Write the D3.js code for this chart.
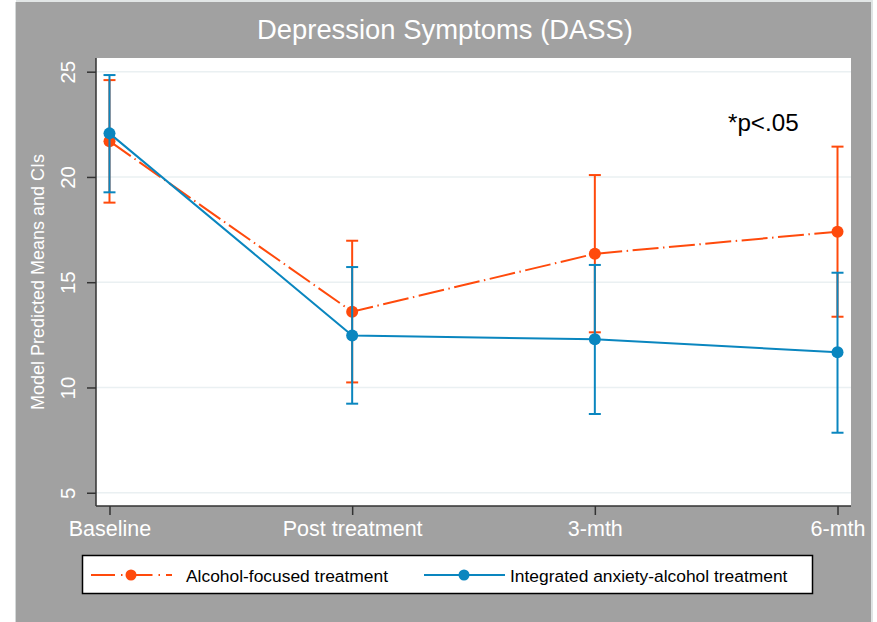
<!DOCTYPE html>
<html>
<head>
<meta charset="utf-8">
<script src="https://cdn.jsdelivr.net/npm/d3@7"></script>
<style>
  html, body { margin: 0; padding: 0; background: #ffffff; }
  svg { display: block; font-family: "Liberation Sans", Arial, Helvetica, sans-serif; }
</style>
</head>
<body>
<svg id="chart" width="877" height="622"></svg>
<script>
// ---- Data ----
const categories = ["Baseline", "Post treatment", "3-mth", "6-mth"];
const alcoholMean = [21.70, 13.60, 16.35, 17.40];
const alcoholLow  = [18.78, 10.24, 12.62, 13.36];
const alcoholHigh = [24.60, 16.97, 20.09, 21.44];
const integratedMean = [22.07, 12.47, 12.29, 11.67];
const integratedLow  = [19.27, 9.23, 8.74, 7.85];
const integratedHigh = [24.84, 15.72, 15.82, 15.45];
const yTicks = [5, 10, 15, 20, 25];
const seriesNames = ["Alcohol-focused treatment", "Integrated anxiety-alcohol treatment"];
const titleText = "Depression Symptoms (DASS)";
const yTitle = "Model Predicted Means and CIs";
const noteText = "*p<.05";

const ORANGE = "#ff4a0c";
const BLUE = "#0a86bf";
const GRAY = "#a1a1a1";

const svg = d3.select("#chart");
const W = 877, H = 622;

// outer background
svg.append("rect").attr("x", 16).attr("y", 2).attr("width", 855).attr("height", H - 2).attr("fill", GRAY);
svg.append("line").attr("x1", 15.5).attr("x2", 15.5).attr("y1", 2).attr("y2", H).attr("stroke", "#d4d8d8").attr("stroke-width", 1);
svg.append("rect").attr("x", 871).attr("y", 0).attr("width", 2).attr("height", H).attr("fill", "#dfe4e4");
svg.append("rect").attr("x", 16).attr("y", 0).attr("width", 857).attr("height", 2).attr("fill", "#e2e6e6");

const plot = { left: 96, right: 851, top: 58, bottom: 506 };

const x = d3.scalePoint().domain(categories).range([plot.left, plot.right]).padding(0.0556);
const y = d3.scaleLinear().domain([4.37, 25.65]).range([plot.bottom, plot.top]);

// plot region
svg.append("rect")
  .attr("x", plot.left).attr("y", plot.top)
  .attr("width", plot.right - plot.left).attr("height", plot.bottom - plot.top)
  .attr("fill", "#ffffff");

// gridlines
svg.append("g").selectAll("line").data(yTicks).join("line")
  .attr("x1", plot.left).attr("x2", plot.right)
  .attr("y1", d => y(d)).attr("y2", d => y(d))
  .attr("stroke", "#eaf0f2").attr("stroke-width", 1.5);

// title
svg.append("text").attr("x", 445).attr("y", 39).attr("text-anchor", "middle")
  .attr("fill", "#ffffff").attr("font-size", 27.4).text(titleText);

// y axis
const yAxis = svg.append("g").attr("transform", `translate(${plot.left},0)`)
  .call(d3.axisLeft(y).tickValues(yTicks).tickSize(9).tickPadding(0).tickFormat(d3.format("d")));
yAxis.select(".domain").attr("stroke", "#333333").attr("stroke-width", 1.5)
  .attr("d", `M0,${plot.top}V${plot.bottom}`);
yAxis.selectAll(".tick line").attr("stroke", "#333333").attr("stroke-width", 1.5);
yAxis.selectAll(".tick text")
  .attr("fill", "#ffffff").attr("font-size", 20.5)
  .attr("x", null).attr("dy", null)
  .attr("text-anchor", "middle")
  .attr("transform", "translate(-21.5,0) rotate(-90)");

// y title
svg.append("text")
  .attr("transform", `translate(43.5,${(plot.top + plot.bottom) / 2}) rotate(-90)`)
  .attr("text-anchor", "middle").attr("fill", "#ffffff").attr("font-size", 18)
  .text(yTitle);

// x axis
const xAxis = svg.append("g").attr("transform", `translate(0,${plot.bottom})`)
  .call(d3.axisBottom(x).tickSize(9).tickPadding(6));
xAxis.select(".domain").attr("stroke", "#333333").attr("stroke-width", 1.5)
  .attr("d", `M${plot.left},0H${plot.right}`);
xAxis.selectAll(".tick line").attr("stroke", "#333333").attr("stroke-width", 1.5);
xAxis.selectAll(".tick text").attr("fill", "#ffffff").attr("font-size", 21.5).attr("dy", "0.71em");

// series
const series = [
  { name: seriesNames[0], mean: alcoholMean, lo: alcoholLow, hi: alcoholHigh, color: ORANGE, dash: "26,4.5,1.5,4.5" },
  { name: seriesNames[1], mean: integratedMean, lo: integratedLow, hi: integratedHigh, color: BLUE, dash: null }
];

const line = d3.line().x(d => x(d.c)).y(d => y(d.v));

series.forEach(s => {
  const pts = categories.map((c, i) => ({ c, v: s.mean[i], lo: s.lo[i], hi: s.hi[i] }));
  const g = svg.append("g");
  g.append("path").datum(pts).attr("d", line)
    .attr("fill", "none").attr("stroke", s.color).attr("stroke-width", 2)
    .attr("stroke-dasharray", s.dash);
  g.selectAll("line.bar").data(pts).join("line").attr("class", "bar")
    .attr("x1", d => x(d.c)).attr("x2", d => x(d.c))
    .attr("y1", d => y(d.lo)).attr("y2", d => y(d.hi))
    .attr("stroke", s.color).attr("stroke-width", 2);
  g.selectAll("line.caphi").data(pts).join("line").attr("class", "caphi")
    .attr("x1", d => x(d.c) - 6).attr("x2", d => x(d.c) + 6)
    .attr("y1", d => y(d.hi)).attr("y2", d => y(d.hi))
    .attr("stroke", s.color).attr("stroke-width", 2);
  g.selectAll("line.caplo").data(pts).join("line").attr("class", "caplo")
    .attr("x1", d => x(d.c) - 6).attr("x2", d => x(d.c) + 6)
    .attr("y1", d => y(d.lo)).attr("y2", d => y(d.lo))
    .attr("stroke", s.color).attr("stroke-width", 2);
  g.selectAll("circle").data(pts).join("circle")
    .attr("cx", d => x(d.c)).attr("cy", d => y(d.v)).attr("r", 6)
    .attr("fill", s.color);
});

// note
svg.append("text").attr("x", 728).attr("y", 131).attr("fill", "#000000")
  .attr("font-size", 24.2).text(noteText);

// legend
const leg = svg.append("g");
leg.append("rect").attr("x", 82.5).attr("y", 555.5).attr("width", 730).attr("height", 38)
  .attr("fill", "#ffffff").attr("stroke", "#000000").attr("stroke-width", 1.5);
const legItems = [
  { x1: 91, x2: 172, cx: 131, tx: 186, s: series[0] },
  { x1: 424, x2: 505, cx: 464, tx: 510, s: series[1] }
];
legItems.forEach(it => {
  leg.append("line").attr("x1", it.x1).attr("x2", it.x2).attr("y1", 575).attr("y2", 575)
    .attr("stroke", it.s.color).attr("stroke-width", 2)
    .attr("stroke-dasharray", it.s.dash ? "24,6,1.5,6" : null);
  leg.append("circle").attr("cx", it.cx).attr("cy", 575).attr("r", 5.5).attr("fill", it.s.color);
  leg.append("text").attr("x", it.tx).attr("y", 581.5).attr("font-size", 17.4).attr("fill", "#000000")
    .text(it.s.name);
});
</script>
</body>
</html>
